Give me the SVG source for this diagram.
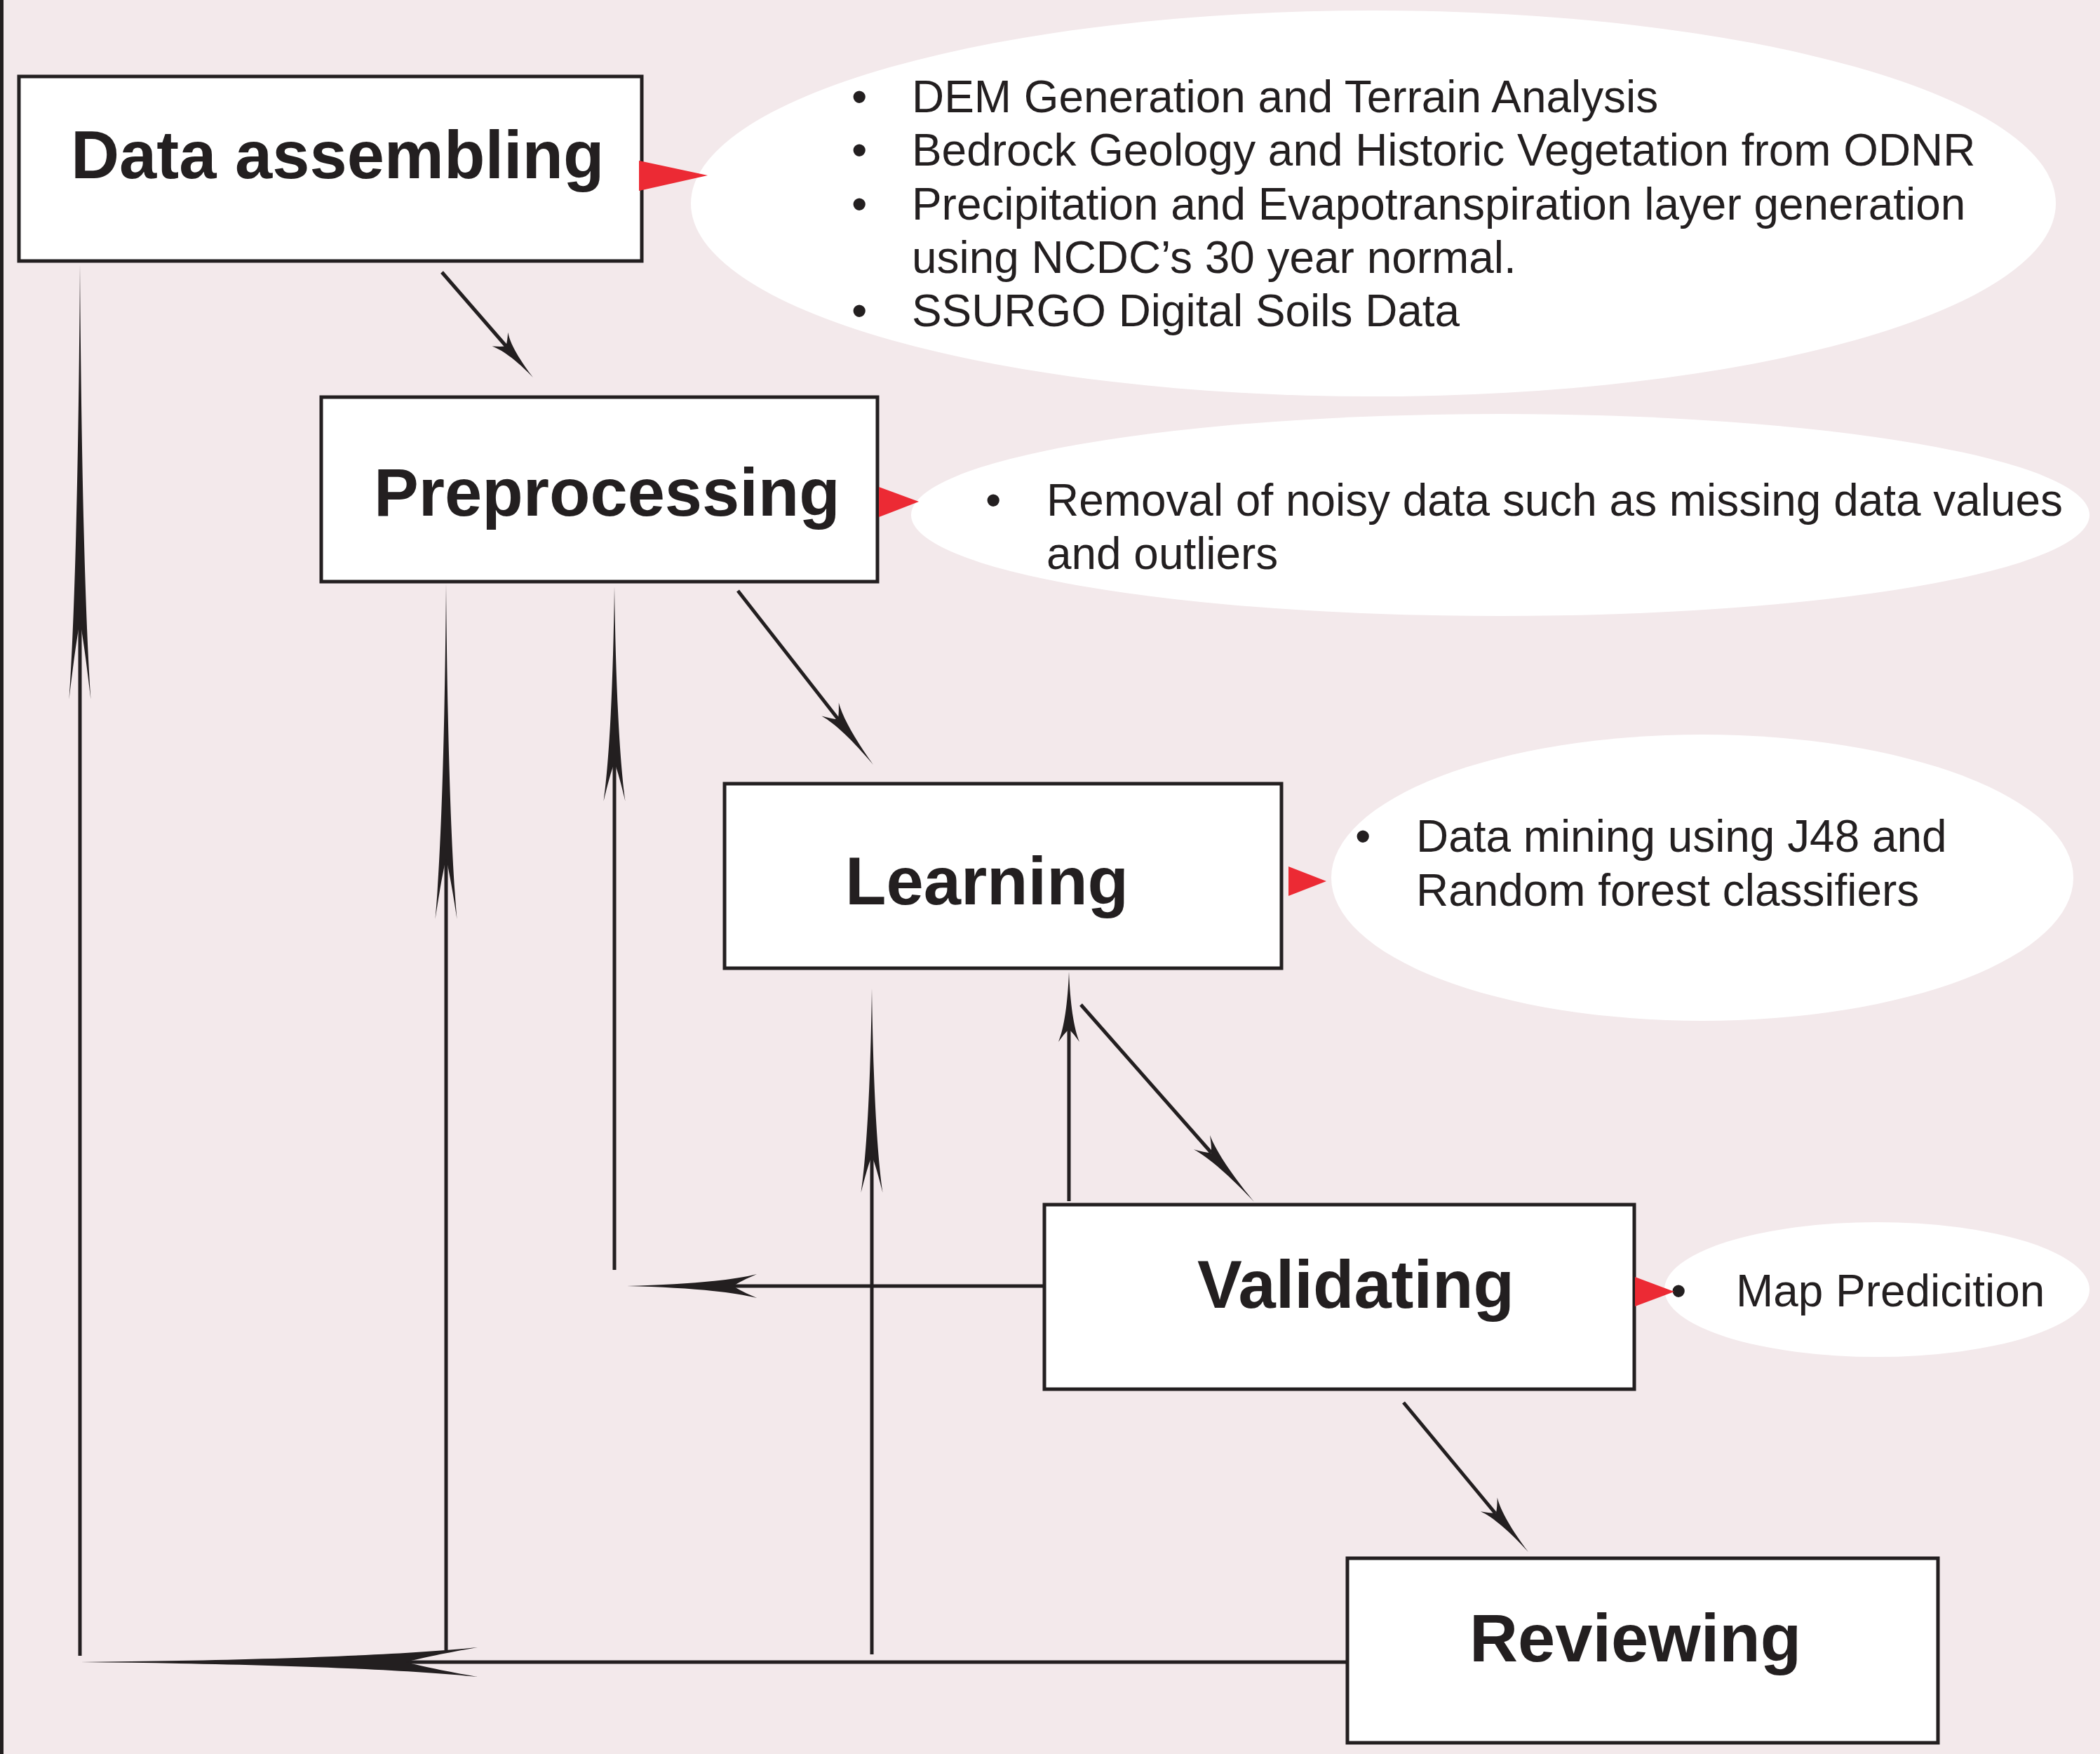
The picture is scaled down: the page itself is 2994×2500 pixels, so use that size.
<svg xmlns="http://www.w3.org/2000/svg" width="2994" height="2500" viewBox="0 0 2994 2500">
<defs>
<style>
.box{fill:#fff;stroke:#231F20;stroke-width:5}
.title{font-family:"Liberation Sans",Arial,Helvetica,sans-serif;font-weight:bold;font-size:95.7px;fill:#231F20}
.note{font-family:"Liberation Sans",Arial,Helvetica,sans-serif;font-size:63.9px;fill:#231F20}
.bubble{fill:#fff}
.tri{fill:#EC2A34}
.line{stroke:#231F20;stroke-width:5;fill:none}
.head{fill:#231F20}
</style>
<path id="ah" d="M0,0 C0.45,0.12 0.8,0.45 1,1 C0.92,0.62 0.86,0.3 0.82,0 C0.86,-0.3 0.92,-0.62 1,-1 C0.8,-0.45 0.45,-0.12 0,0 Z"/>
</defs>
<rect x="0" y="0" width="2994" height="2500" fill="#F3E9EB"/>
<rect x="0" y="0" width="5" height="2500" fill="#231F20"/>

<g id="bubble-assembling">
<ellipse class="bubble" cx="1958" cy="290" rx="973" ry="275"/>
<text class="note" x="1214" y="160">•</text><text class="note" x="1300" y="160">DEM Generation and Terrain Analysis</text>
<text class="note" x="1214" y="236">•</text><text class="note" x="1300" y="236">Bedrock Geology and Historic Vegetation from ODNR</text>
<text class="note" x="1214" y="313">•</text><text class="note" x="1300" y="313">Precipitation and Evapotranspiration layer generation</text>
<text class="note" x="1300" y="389">using NCDC’s 30 year normal.</text>
<text class="note" x="1214" y="465">•</text><text class="note" x="1300" y="465">SSURGO Digital Soils Data</text>
</g>
<g id="bubble-preprocessing">
<ellipse class="bubble" cx="2139" cy="734" rx="840" ry="144"/>
<text class="note" x="1405" y="735">•</text><text class="note" x="1492" y="735">Removal of noisy data such as missing data values</text>
<text class="note" x="1492" y="811">and outliers</text>
</g>
<g id="bubble-learning">
<ellipse class="bubble" cx="2427" cy="1251" rx="529" ry="204"/>
<text class="note" x="1932" y="1214">•</text><text class="note" x="2019" y="1214">Data mining using J48 and</text>
<text class="note" x="2019" y="1291">Random forest classifiers</text>
</g>
<g id="bubble-validating">
<ellipse class="bubble" cx="2676" cy="1838" rx="303" ry="96"/>
<text class="note" x="2382" y="1862">•</text><text class="note" x="2475" y="1862">Map Predicition</text>
</g>

<g id="connectors">
<line class="line" x1="114" y1="2360" x2="114" y2="880"/>
<use class="head" href="#ah" transform="translate(114,377) rotate(90) scale(620,15.5)"/>
<line class="line" x1="636" y1="2352" x2="636" y2="1220"/>
<use class="head" href="#ah" transform="translate(636,832) rotate(90) scale(478,15.5)"/>
<line class="line" x1="876" y1="1810" x2="876" y2="1085"/>
<use class="head" href="#ah" transform="translate(876,836) rotate(90) scale(306,15.5)"/>
<line class="line" x1="1243" y1="2358" x2="1243" y2="1645"/>
<use class="head" href="#ah" transform="translate(1243,1409) rotate(90) scale(291,15.5)"/>
<line class="line" x1="1524" y1="1712" x2="1524" y2="1465"/>
<use class="head" href="#ah" transform="translate(1524,1385) rotate(90) scale(100,15)"/>
<line class="line" x1="1921" y1="2369" x2="575" y2="2369"/>
<use class="head" href="#ah" transform="translate(115,2369) scale(566,21)"/>
<line class="line" x1="1489" y1="1833" x2="1042" y2="1833"/>
<use class="head" href="#ah" transform="translate(894,1833) scale(185,17)"/>
<line class="line" x1="630" y1="388" x2="723" y2="495"/>
<use class="head" href="#ah" transform="translate(760,538) rotate(-130.9) scale(72,15)"/>
<line class="line" x1="1052" y1="842" x2="1195" y2="1025"/>
<use class="head" href="#ah" transform="translate(1245,1090) rotate(-127.9) scale(100,15.5)"/>
<line class="line" x1="1541" y1="1432" x2="1727" y2="1643"/>
<use class="head" href="#ah" transform="translate(1788,1713) rotate(-131.3) scale(113,15.5)"/>
<line class="line" x1="2001" y1="1999" x2="2132" y2="2157"/>
<use class="head" href="#ah" transform="translate(2179,2212) rotate(-129.7) scale(88,15.5)"/>
</g>

<g id="node-data-assembling">
<rect class="box" x="27" y="109" width="888" height="263"/>
<text class="title" x="101" y="254">Data assembling</text>
</g>
<g id="node-preprocessing">
<rect class="box" x="458" y="566" width="793" height="263"/>
<text class="title" x="533" y="735">Preprocessing</text>
</g>
<g id="node-learning">
<rect class="box" x="1033" y="1117" width="794" height="263"/>
<text class="title" x="1205" y="1289">Learning</text>
</g>
<g id="node-validating">
<rect class="box" x="1489" y="1717" width="841" height="263"/>
<text class="title" x="1707" y="1864">Validating</text>
</g>
<g id="node-reviewing">
<rect class="box" x="1921" y="2221" width="842" height="263"/>
<text class="title" x="2095" y="2368">Reviewing</text>
</g>

<g id="pointers">
<polygon class="tri" points="911,229 911,272 1009,250"/>
<polygon class="tri" points="1253,694 1253,737 1310,715"/>
<polygon class="tri" points="1837,1235 1837,1277 1891,1256"/>
<polygon class="tri" points="2331,1820 2331,1862 2387,1841"/>
</g>
</svg>
